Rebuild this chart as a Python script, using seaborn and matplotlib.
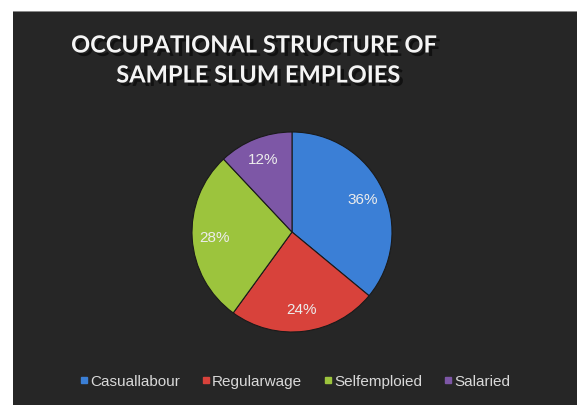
import matplotlib
matplotlib.use("Agg")
import matplotlib.pyplot as plt
import matplotlib.patheffects as pe
from matplotlib.patches import Rectangle
from matplotlib.lines import Line2D
import seaborn as sns

# data
categories = ["Casuallabour", "Regularwage", "Selfemploied", "Salaried"]
shares = [36, 24, 28, 12]
colors = ["#3b7fd6", "#d8423b", "#9cc43d", "#7d57a6"]
title_lines = ["OCCUPATIONAL STRUCTURE OF", "SAMPLE SLUM EMPLOIES"]

sns.set_style("white")
plt.rcParams["font.family"] = ["Liberation Sans", "DejaVu Sans"]

W, H = 577, 406
fig = plt.figure(figsize=(W / 100, H / 100), dpi=100)
fig.patch.set_facecolor("white")

# dark chart area
fig.add_artist(Rectangle((13 / W, 0), 1 - 13 / W, 1 - 12 / H, transform=fig.transFigure,
                         facecolor="#262626", edgecolor="none", zorder=0))
fig.add_artist(Rectangle((13 / W, 1 - 13 / H), 1 - 13 / W, 1.5 / H, transform=fig.transFigure,
                         facecolor="#8a8a8a", edgecolor="none", zorder=0))

# pie axes: center (292, 233), radius 100 px
ax = fig.add_axes([167 / W, (H - 233 - 125) / H, 250 / W, 250 / H])
ax.set_facecolor("none")
wedges, texts, autotexts = ax.pie(
    shares, colors=colors, startangle=90, counterclock=False,
    autopct="%d%%", pctdistance=0.78,
    wedgeprops=dict(edgecolor="#1a1a1a", linewidth=0.8),
    textprops=dict(color="#ececec", fontsize=11),
)
ax.set_aspect("equal")

shadow = [pe.withSimplePatchShadow(offset=(2.5, -2.5), shadow_rgbFace="black", alpha=0.55)]
for (x, y), line in zip([(254, 46), (258, 76)], title_lines):
    fig.text(x / W, 1 - y / H, line, ha="center", va="center", color="#f4f4f4",
             fontsize=17, fontweight="bold", family=["Lato", "DejaVu Sans"],
             path_effects=shadow)

handles = [Line2D([], [], marker="s", linestyle="none", markersize=5,
                  markerfacecolor=c, markeredgecolor=c) for c in colors]
fig.legend(handles, categories, loc="center", bbox_to_anchor=(0.51, 1 - 382 / H), ncol=4,
           frameon=False, fontsize=11, labelcolor="#d9d9d9", handletextpad=0.0,
           columnspacing=1.3, handlelength=0.8)

fig.savefig("out.png", dpi=100, facecolor=fig.get_facecolor())
